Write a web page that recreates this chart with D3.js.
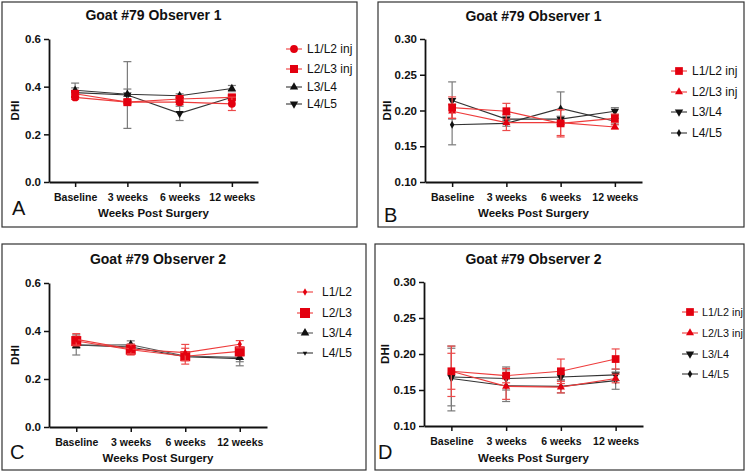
<!DOCTYPE html>
<html><head><meta charset="utf-8">
<script src="https://cdn.jsdelivr.net/npm/d3@7"></script>
<style>
body{margin:0;background:#fff}
svg{display:block}
text{font-family:"Liberation Sans",Arial,Helvetica,sans-serif;fill:#111}
</style>
</head><body>
<svg id="c" width="747" height="473"></svg>
<script>
// ---------- data ----------
const categories = ["Baseline", "3 weeks", "6 weeks", "12 weeks"];
const yTicksWide = [0.0, 0.2, 0.4, 0.6];
const yTicksNarrow = [0.10, 0.15, 0.20, 0.25, 0.30];
const seriesNamesInj = ["L1/L2 inj", "L2/L3 inj", "L3/L4", "L4/L5"];
const seriesNamesPlain = ["L1/L2", "L2/L3", "L3/L4", "L4/L5"];
const panelTitles = ["Goat #79 Observer 1", "Goat #79 Observer 1", "Goat #79 Observer 2", "Goat #79 Observer 2"];
const panelLetters = ["A", "B", "C", "D"];

// Panel A (mean, sd)
const A_L1L2 = [0.355, 0.335, 0.335, 0.328];
const A_L1L2_sd = [0.008, 0.006, 0.010, 0.028];
const A_L2L3 = [0.370, 0.335, 0.348, 0.355];
const A_L2L3_sd = [0.012, 0.006, 0.014, 0.010];
const A_L3L4 = [0.385, 0.368, 0.362, 0.392];
const A_L3L4_sd = [0.030, 0.022, 0.008, 0.013];
const A_L4L5 = [0.375, 0.365, 0.288, 0.356];
const A_L4L5_sd = [0.020, 0.140, 0.030, 0.006];

// Panel B
const B_L1L2 = [0.204, 0.199, 0.182, 0.189];
const B_L1L2_sd = [0.015, 0.011, 0.019, 0.006];
const B_L2L3 = [0.199, 0.183, 0.183, 0.177];
const B_L2L3_sd = [0.010, 0.011, 0.018, 0.003];
const B_L3L4 = [0.214, 0.188, 0.188, 0.199];
const B_L3L4_sd = [0.026, 0.004, 0.004, 0.005];
const B_L4L5 = [0.180, 0.182, 0.203, 0.185];
const B_L4L5_sd = [0.028, 0.004, 0.023, 0.004];

// Panel C
const C_L1L2 = [0.365, 0.325, 0.310, 0.345];
const C_L1L2_sd = [0.024, 0.020, 0.034, 0.015];
const C_L2L3 = [0.358, 0.322, 0.295, 0.315];
const C_L2L3_sd = [0.020, 0.022, 0.033, 0.018];
const C_L3L4 = [0.340, 0.343, 0.296, 0.290];
const C_L3L4_sd = [0.012, 0.016, 0.012, 0.018];
const C_L4L5 = [0.342, 0.333, 0.293, 0.285];
const C_L4L5_sd = [0.042, 0.012, 0.015, 0.030];

// Panel D
const D_L1L2 = [0.176, 0.170, 0.176, 0.193];
const D_L1L2_sd = [0.035, 0.010, 0.017, 0.014];
const D_L2L3 = [0.176, 0.155, 0.154, 0.166];
const D_L2L3_sd = [0.025, 0.018, 0.008, 0.006];
const D_L3L4 = [0.168, 0.166, 0.168, 0.171];
const D_L3L4_sd = [0.040, 0.016, 0.004, 0.008];
const D_L4L5 = [0.166, 0.156, 0.155, 0.163];
const D_L4L5_sd = [0.045, 0.022, 0.009, 0.012];

// ---------- styles / layout ----------
const RED = "#e3000f", RED_LINE = "#ee3b3b", RED_ERR = "#ec4a4a";
const BLK = "#111", BLK_LINE = "#333", GRY_ERR = "#7a7a7a";

const panels = [
  { box:[2,2,355,225], x0:49, x1:258, yTop:39, yBot:182, domain:[0,0.6], ticks:yTicksWide, fmt:".1f",
    titleY:20, xTickY:201, xTitleY:217, dhiX:15, letter:[12,215],
    legX:286, legText:307, legFont:12, legRows:[49,69,87,104], names:seriesNamesInj,
    series:[
      {v:A_L1L2, e:A_L1L2_sd, c:"r", sym:"circle", s:48},
      {v:A_L2L3, e:A_L2L3_sd, c:"r", sym:"square", s:64},
      {v:A_L3L4, e:A_L3L4_sd, c:"k", sym:"triangle", s:30},
      {v:A_L4L5, e:A_L4L5_sd, c:"k", sym:"triangleDown", s:30}]},
  { box:[378,2,366,225], x0:425, x1:642, yTop:39, yBot:182, domain:[0.10,0.30], ticks:yTicksNarrow, fmt:".2f",
    titleY:21, xTickY:201, xTitleY:217, dhiX:387, letter:[384,222],
    legX:671, legText:692, legFont:12, legRows:[71,92,112,133], names:seriesNamesInj,
    series:[
      {v:B_L1L2, e:B_L1L2_sd, c:"r", sym:"square", s:60},
      {v:B_L2L3, e:B_L2L3_sd, c:"r", sym:"triangle", s:28},
      {v:B_L3L4, e:B_L3L4_sd, c:"k", sym:"triangleDown", s:30},
      {v:B_L4L5, e:B_L4L5_sd, c:"k", sym:"diamond", s:18}]},
  { box:[2,244,364,226], x0:49, x1:267, yTop:283, yBot:427, domain:[0,0.6], ticks:yTicksWide, fmt:".1f",
    titleY:264, xTickY:446, xTitleY:462, dhiX:15, letter:[10,459],
    legX:297, legText:322, legFont:12, legRows:[292,313,333,353], names:seriesNamesPlain,
    series:[
      {v:C_L1L2, e:C_L1L2_sd, c:"r", sym:"diamond", s:16},
      {v:C_L2L3, e:C_L2L3_sd, c:"r", sym:"square", s:100},
      {v:C_L3L4, e:C_L3L4_sd, c:"k", sym:"triangle", s:32, line:"#555"},
      {v:C_L4L5, e:C_L4L5_sd, c:"k", sym:"triangleDown", s:9}]},
  { box:[375,244,369,226], x0:424, x1:643, yTop:282, yBot:426, domain:[0.10,0.30], ticks:yTicksNarrow, fmt:".2f",
    titleY:264, xTickY:445, xTitleY:462, dhiX:385, letter:[378,459],
    legX:682, legText:702, legFont:10.8, legRows:[312,333,354,374], names:seriesNamesInj,
    series:[
      {v:D_L1L2, e:D_L1L2_sd, c:"r", sym:"square", s:60},
      {v:D_L2L3, e:D_L2L3_sd, c:"r", sym:"triangle", s:28},
      {v:D_L3L4, e:D_L3L4_sd, c:"k", sym:"triangleDown", s:30},
      {v:D_L4L5, e:D_L4L5_sd, c:"k", sym:"diamond", s:18}]}
];

const svg = d3.select("#c");

function symPath(name, size) {
  const t = {circle:d3.symbolCircle, square:d3.symbolSquare, triangle:d3.symbolTriangle,
             triangleDown:d3.symbolTriangle, diamond:d3.symbolDiamond}[name];
  return d3.symbol().type(t).size(size)();
}
function symTransform(name, x, y) {
  return name === "triangleDown" ? `translate(${x},${y}) rotate(180)` : `translate(${x},${y})`;
}

panels.forEach((p, pi) => {
  const g = svg.append("g");
  g.append("rect").attr("x", p.box[0]).attr("y", p.box[1]).attr("width", p.box[2]).attr("height", p.box[3])
    .attr("fill", "none").attr("stroke", "#333").attr("stroke-width", 1.2);

  const x = d3.scalePoint().domain(categories).range([p.x0, p.x1]).padding(0.5);
  const y = d3.scaleLinear().domain(p.domain).range([p.yBot, p.yTop]);

  // axes
  const ya = g.append("g").attr("transform", `translate(${p.x0},0)`)
    .call(d3.axisLeft(y).tickValues(p.ticks).tickFormat(d3.format(p.fmt)).tickSize(5).tickSizeOuter(0));
  const xa = g.append("g").attr("transform", `translate(0,${p.yBot})`)
    .call(d3.axisBottom(x).tickSize(5).tickSizeOuter(0));
  [ya, xa].forEach(a => {
    a.select(".domain").attr("stroke", "#111").attr("stroke-width", 1.8);
    a.selectAll(".tick line").attr("stroke", "#111").attr("stroke-width", 1.5);
    a.selectAll(".tick text").attr("font-family", "Liberation Sans, Arial, sans-serif")
      .attr("font-weight", "bold").attr("fill", "#111");
  });
  ya.selectAll(".tick text").attr("font-size", 11.5).attr("x", -8);
  xa.selectAll(".tick text").attr("font-size", 10.5).attr("y", null).attr("dy", null)
    .attr("transform", `translate(0,${p.xTickY - p.yBot})`);

  // titles
  const cx = (p.x0 + p.x1) / 2;
  g.append("text").attr("x", cx).attr("y", p.titleY).attr("text-anchor", "middle")
    .attr("font-size", 14).attr("font-weight", "bold").text(panelTitles[pi]);
  g.append("text").attr("x", cx).attr("y", p.xTitleY).attr("text-anchor", "middle")
    .attr("font-size", 11.5).attr("font-weight", "bold").text("Weeks Post Surgery");
  g.append("text").attr("transform", `translate(${p.dhiX},${(p.yTop + p.yBot) / 2}) rotate(-90)`)
    .attr("text-anchor", "middle").attr("dy", "0.35em")
    .attr("font-size", 11.5).attr("font-weight", "bold").text("DHI");
  g.append("text").attr("x", p.letter[0]).attr("y", p.letter[1])
    .attr("font-size", 20).text(panelLetters[pi]);

  // series, drawn last-first so the first series ends on top
  const order = p.series.map((s, i) => i).reverse();
  order.forEach(i => {
    const s = p.series[i];
    const errC = s.c === "r" ? RED_ERR : GRY_ERR;
    const lineC = s.line || (s.c === "r" ? RED_LINE : BLK_LINE);
    const markC = s.c === "r" ? RED : BLK;
    const pts = categories.map((c, k) => ({cx: x(c), v: s.v[k], e: s.e[k]}));
    const eg = g.append("g").attr("stroke", errC).attr("stroke-width", 1.2).attr("fill", "none");
    pts.forEach(d => {
      const yl = y(d.v - d.e), yh = y(d.v + d.e);
      eg.append("line").attr("x1", d.cx).attr("x2", d.cx).attr("y1", yl).attr("y2", yh);
      eg.append("line").attr("x1", d.cx - 4).attr("x2", d.cx + 4).attr("y1", yl).attr("y2", yl);
      eg.append("line").attr("x1", d.cx - 4).attr("x2", d.cx + 4).attr("y1", yh).attr("y2", yh);
    });
    g.append("path").datum(pts)
      .attr("d", d3.line().x(d => d.cx).y(d => y(d.v)))
      .attr("fill", "none").attr("stroke", lineC).attr("stroke-width", 1.1);
    g.selectAll(null).data(pts).enter().append("path")
      .attr("d", symPath(s.sym, s.s)).attr("fill", markC)
      .attr("transform", d => symTransform(s.sym, d.cx, y(d.v)));
  });

  // legend
  p.series.forEach((s, i) => {
    const ly = p.legRows[i];
    const lineC = s.line || (s.c === "r" ? RED_LINE : BLK_LINE);
    g.append("line").attr("x1", p.legX).attr("x2", p.legX + 16).attr("y1", ly).attr("y2", ly)
      .attr("stroke", lineC).attr("stroke-width", 1.1);
    g.append("path").attr("d", symPath(s.sym, s.s)).attr("fill", s.c === "r" ? RED : BLK)
      .attr("transform", symTransform(s.sym, p.legX + 8, ly));
    g.append("text").attr("x", p.legText).attr("y", ly).attr("dy", "0.36em")
      .attr("font-size", p.legFont).text(p.names[i]);
  });
});
</script>
</body></html>
